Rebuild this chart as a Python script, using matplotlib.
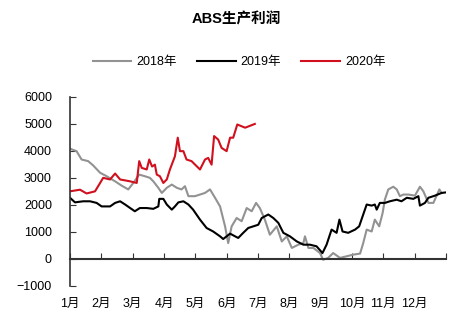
import matplotlib.pyplot as plt

plt.rcParams['font.family'] = ['Liberation Sans', 'Noto Sans CJK SC', 'DejaVu Sans']

# x positions in months from 1 Jan (0 = 1月, 12 = year end)
m_2018 = [0.00, 0.21, 0.37, 0.58, 0.74, 0.96, 1.17, 1.44, 1.65, 1.86,
          2.02, 2.21, 2.39, 2.55, 2.66, 2.82, 2.93, 3.09, 3.25, 3.41,
          3.56, 3.67, 3.78, 3.99, 4.15, 4.31, 4.47, 4.63, 4.79, 4.95,
          5.05, 5.16, 5.32, 5.48, 5.64, 5.80, 5.94, 6.06, 6.22, 6.38,
          6.60, 6.76, 6.92, 7.08, 7.29, 7.45, 7.50, 7.61, 7.77, 7.98,
          8.08, 8.24, 8.40, 8.62, 8.83, 9.04, 9.26, 9.36, 9.47, 9.63,
          9.73, 9.87, 9.98, 10.05, 10.16, 10.32, 10.43, 10.53, 10.64, 10.80,
          11.01, 11.17, 11.28, 11.44, 11.60, 11.79, 11.86]
v_2018 = [4080, 3990, 3680, 3620, 3460, 3190, 3060, 2870, 2710, 2570,
          2810, 3120, 3060, 3000, 2870, 2630, 2440, 2630, 2750, 2630,
          2570, 2690, 2320, 2320, 2380, 2440, 2570, 2260, 1940, 1200,
          580, 1200, 1510, 1390, 1880, 1760, 2070, 1880, 1450, 890,
          1200, 640, 830, 400, 520, 580, 830, 400, 400, 210,
          -40, 30, 210, 30, 90, 150, 190, 580, 1080, 1010,
          1450, 1200, 1700, 2190, 2570, 2670, 2570, 2320, 2380, 2380,
          2340, 2670, 2500, 2070, 2070, 2570, 2440]

m_2019 = [0.00, 0.16, 0.42, 0.64, 0.85, 1.01, 1.28, 1.44, 1.60, 1.76,
          1.92, 2.07, 2.23, 2.45, 2.66, 2.82, 2.85, 2.98, 3.09, 3.25,
          3.35, 3.46, 3.62, 3.78, 3.93, 4.15, 4.36, 4.57, 4.79, 4.89,
          5.00, 5.11, 5.27, 5.37, 5.53, 5.69, 5.85, 6.01, 6.12, 6.33,
          6.49, 6.65, 6.81, 7.02, 7.24, 7.45, 7.66, 7.87, 8.06, 8.19,
          8.35, 8.51, 8.60, 8.70, 8.88, 9.10, 9.23, 9.47, 9.63, 9.73,
          9.79, 9.89, 10.05, 10.21, 10.43, 10.58, 10.75, 10.96, 11.12, 11.17,
          11.33, 11.44, 11.65, 11.86, 12.00]
v_2019 = [2260, 2090, 2130, 2130, 2070, 1940, 1940, 2070, 2130, 2010,
          1880, 1760, 1880, 1880, 1850, 1940, 2220, 2220, 2010, 1820,
          1940, 2090, 2130, 2010, 1820, 1450, 1140, 1010, 830, 730,
          830, 930, 830, 770, 960, 1140, 1200, 1260, 1510, 1640,
          1510, 1330, 960, 830, 640, 520, 520, 460, 210, 520,
          1080, 960, 1450, 1010, 960, 1080, 1200, 2010, 1970, 2010,
          1820, 2070, 2070, 2130, 2190, 2130, 2260, 2220, 2320, 1970,
          2070, 2260, 2340, 2440, 2460]

m_2020 = [0.00, 0.32, 0.53, 0.80, 1.06, 1.28, 1.44, 1.60, 1.92, 2.13,
          2.21, 2.29, 2.45, 2.53, 2.62, 2.71, 2.77, 2.87, 2.98, 3.09,
          3.19, 3.35, 3.44, 3.51, 3.62, 3.72, 3.88, 4.15, 4.31, 4.41,
          4.52, 4.60, 4.73, 4.84, 5.00, 5.11, 5.21, 5.34, 5.59, 5.90]
v_2020 = [2500, 2560, 2420, 2500, 3000, 2940, 3160, 2940, 2870, 2810,
          3620, 3370, 3310, 3680, 3420, 3490, 3120, 3060, 2810, 2940,
          3310, 3800, 4490, 3990, 3990, 3680, 3620, 3310, 3680, 3740,
          3490, 4550, 4420, 4110, 3990, 4490, 4490, 4980, 4860, 5000]

month_labels = ['1月', '2月', '3月', '4月', '5月', '6月', '7月', '8月', '9月', '10月', '11月', '12月']
y_ticks = [-1000, 0, 1000, 2000, 3000, 4000, 5000, 6000]

fig = plt.figure(figsize=(4.65, 3.31), dpi=100)
ax = fig.add_axes([0.1505, 0.137, 0.8085, 0.570])

ax.plot(m_2018, v_2018, color='#929292', lw=1.5, label='2018年')
ax.plot(m_2019, v_2019, color='black', lw=1.5, label='2019年')
ax.plot(m_2020, v_2020, color='#d0101e', lw=1.5, label='2020年')

ax.set_xlim(0, 12)
ax.set_ylim(-1000, 6000)
ax.set_yticks(y_ticks)
ax.set_xticks(range(13))
ax.set_xticklabels(month_labels + [''])

for s in ['top', 'right']:
    ax.spines[s].set_visible(False)
ax.spines['bottom'].set_position(('data', 0))
ax.spines['bottom'].set_color('#333333')
ax.spines['left'].set_color('#333333')
ax.spines['bottom'].set_linewidth(1.5)
ax.spines['left'].set_linewidth(1.2)

ax.tick_params(axis='y', direction='in', length=4, labelsize=9, pad=13, colors='#333333', labelcolor='black')
ax.tick_params(axis='x', direction='in', length=4, labelsize=9, pad=28, colors='#333333', labelcolor='black')

fig.text(0.508, 0.94, 'ABS生产利润', ha='center', va='center', fontsize=10.5, fontweight='bold')
fig.legend(loc='center', bbox_to_anchor=(0.514, 0.813), ncol=3, frameon=False, fontsize=9,
           handlelength=3.1, columnspacing=1.6, handletextpad=0.4)

fig.savefig('out.png', dpi=100)
